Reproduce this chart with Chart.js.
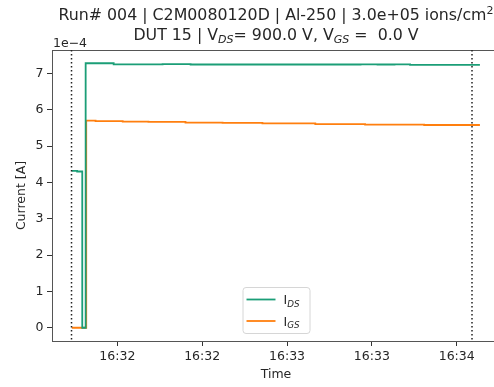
<!DOCTYPE html>
<html>
<head>
<meta charset="utf-8">
<script src="https://cdn.jsdelivr.net/npm/chart.js@4"></script>
<style>
  html, body { margin: 0; padding: 0; background: #fff; overflow: hidden; }
  #wrap { width: 494px; height: 387px; overflow: hidden; }
</style>
</head>
<body>
<div id="wrap"><canvas id="chart" width="510" height="387"></canvas></div>
<script>
// time = seconds since midnight, current in units of 1e-4 A
const idsTimes  = [59503.9, 59505.8, 59507.6, 59508.8, 59518.7, 59536.0, 59545.9, 59598.8, 59606.0, 59612.0, 59618.0, 59623.5, 59648.2];
const idsValues = [4.32,    4.30,    0.0,     7.28,    7.25,    7.255,   7.245,   7.245,   7.25,    7.245,   7.25,    7.235,   7.235];

const igsTimes  = [59503.9, 59509.0, 59512.3, 59521.9, 59531.0, 59544.1, 59557.2, 59571.3, 59590.0, 59607.6, 59628.5, 59648.2];
const igsValues = [0.0,     5.70,    5.685,   5.675,   5.665,   5.645,   5.64,    5.625,   5.605,   5.59,    5.58,    5.58];

const markerTimes = [59503.8, 59645.4];
const xTicks = [59520, 59550, 59580, 59610, 59640];
const yTicks = [0, 1, 2, 3, 4, 5, 6, 7];
const xLimits = [59496.9, 59655.3];
const yLimits = [-0.364, 7.644];

const FONT = "'DejaVu Sans', sans-serif";
const TEXT = '#262626';
Chart.defaults.font.family = FONT;
Chart.defaults.color = TEXT;

const toPoints = (ts, vs) => ts.map((t, i) => ({ x: t, y: vs[i] }));
const hhmm = v => {
  const h = Math.floor(v / 3600);
  const m = Math.floor((v % 3600) / 60);
  return h + ':' + String(m).padStart(2, '0');
};

// draw text made of parts, some of them sub/superscripted
function drawRich(ctx, parts, x, y, size, align) {
  const fontFor = p => (p.italic ? 'italic ' : '') + (p.sub || p.sup ? size * 0.7 : size) + 'px ' + FONT;
  let total = 0;
  parts.forEach(p => { ctx.font = fontFor(p); total += ctx.measureText(p.t).width; });
  let cx = align === 'center' ? x - total / 2 : x;
  ctx.textAlign = 'left';
  ctx.textBaseline = 'alphabetic';
  parts.forEach(p => {
    ctx.font = fontFor(p);
    const dy = p.sub ? size * 0.22 : p.sup ? -size * 0.4 : 0;
    ctx.fillText(p.t, cx, y + dy);
    cx += ctx.measureText(p.t).width;
  });
}

const framePlugin = {
  id: 'frame',
  afterDatasetsDraw(chart) {
    const { ctx, chartArea: a } = chart;
    ctx.save();
    ctx.strokeStyle = '#555';
    ctx.lineWidth = 1;
    ctx.beginPath();
    ctx.moveTo(a.left, a.top + 0.5);
    ctx.lineTo(a.right, a.top + 0.5);
    ctx.lineTo(a.right, a.bottom);
    ctx.stroke();
    ctx.restore();
  }
};

const markerPlugin = {
  id: 'markers',
  afterDatasetsDraw(chart) {
    const { ctx, chartArea: a, scales } = chart;
    ctx.save();
    ctx.strokeStyle = '#222';
    ctx.lineWidth = 1.5;
    ctx.setLineDash([1.5, 2.5]);
    markerTimes.forEach(t => {
      const x = scales.x.getPixelForValue(t);
      ctx.beginPath();
      ctx.moveTo(x, a.top);
      ctx.lineTo(x, a.bottom);
      ctx.stroke();
    });
    ctx.restore();
  }
};

const titlePlugin = {
  id: 'richTitle',
  afterDraw(chart) {
    const { ctx, chartArea: a } = chart;
    const cx = (a.left + a.right) / 2;
    ctx.save();
    ctx.fillStyle = TEXT;
    drawRich(ctx, [
      { t: 'Run# 004 | C2M0080120D | Al-250 | 3.0e+05 ions/cm' },
      { t: '2', sup: true }
    ], cx, 20, 15.8, 'center');
    drawRich(ctx, [
      { t: 'DUT 15 | V' }, { t: 'DS', sub: true, italic: true },
      { t: '= 900.0 V, V' }, { t: 'GS', sub: true, italic: true },
      { t: ' =  0.0 V' }
    ], cx, 40, 15.8, 'center');
    drawRich(ctx, [{ t: '1e\u22124' }], a.left + 1, 47, 12.5, 'left');
    ctx.restore();
  }
};

const legendPlugin = {
  id: 'richLegend',
  afterDraw(chart) {
    const { ctx, chartArea: a } = chart;
    const cx = (a.left + a.right) / 2;
    const w = 67, h = 46;
    const x0 = cx - w / 2, y0 = a.bottom - 8 - h;
    ctx.save();
    ctx.fillStyle = 'rgba(255,255,255,0.8)';
    ctx.strokeStyle = '#d6d6d6';
    ctx.lineWidth = 1;
    ctx.beginPath();
    ctx.roundRect(x0 + 0.5, y0 + 0.5, w, h, 3);
    ctx.fill();
    ctx.stroke();
    const labels = ['DS', 'GS'];
    chart.data.datasets.forEach((ds, i) => {
      const y = y0 + 12.5 + i * 21.5;
      ctx.strokeStyle = ds.borderColor;
      ctx.lineWidth = 1.8;
      ctx.beginPath();
      ctx.moveTo(x0 + 4, y);
      ctx.lineTo(x0 + 33, y);
      ctx.stroke();
      ctx.fillStyle = TEXT;
      drawRich(ctx, [{ t: 'I' }, { t: labels[i], sub: true, italic: true }], x0 + 41, y + 4.5, 12.5, 'left');
    });
    ctx.restore();
  }
};

const ctx = document.getElementById('chart').getContext('2d');
new Chart(ctx, {
  type: 'line',
  data: {
    datasets: [
      {
        label: 'IDS',
        data: toPoints(idsTimes, idsValues),
        borderColor: '#1b9e77',
        borderWidth: 1.8,
        stepped: true,
        pointRadius: 0,
        fill: false
      },
      {
        label: 'IGS',
        data: toPoints(igsTimes, igsValues),
        borderColor: '#ff7f0e',
        borderWidth: 1.8,
        stepped: true,
        pointRadius: 0,
        fill: false
      }
    ]
  },
  options: {
    responsive: false,
    animation: false,
    layout: { padding: { top: 50, right: 10, bottom: 0, left: 0 } },
    plugins: {
      legend: { display: false },
      tooltip: { enabled: false }
    },
    scales: {
      x: {
        type: 'linear',
        min: xLimits[0],
        max: xLimits[1],
        afterBuildTicks: s => { s.ticks = xTicks.map(v => ({ value: v })); },
        afterFit: s => { s.height = 46; },
        ticks: { callback: v => hhmm(v), font: { size: 12.5 }, padding: 3, maxRotation: 0, autoSkip: false, color: TEXT },
        grid: { display: true, drawOnChartArea: false, drawTicks: true, tickLength: 5, tickColor: '#333' },
        border: { display: true, color: '#555', width: 1 },
        title: { display: true, text: 'Time', font: { size: 12.5 }, padding: { top: 0, bottom: 4.5 }, color: TEXT }
      },
      y: {
        type: 'linear',
        min: yLimits[0],
        max: yLimits[1],
        afterBuildTicks: s => { s.ticks = yTicks.map(v => ({ value: v })); },
        afterFit: s => { s.width = 52; },
        ticks: { callback: v => String(v), font: { size: 12.5 }, padding: 3.5, color: TEXT },
        grid: { display: true, drawOnChartArea: false, drawTicks: true, tickLength: 5, tickColor: '#333' },
        border: { display: true, color: '#555', width: 1 },
        title: { display: true, text: 'Current [A]', font: { size: 12.5 }, padding: { top: 14, bottom: 0 }, color: TEXT }
      }
    }
  },
  plugins: [framePlugin, markerPlugin, titlePlugin, legendPlugin]
});
</script>
</body>
</html>
